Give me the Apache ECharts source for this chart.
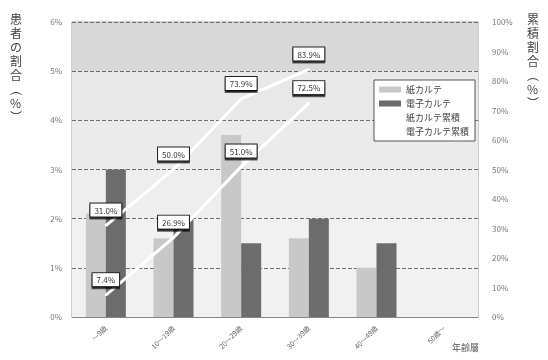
<!DOCTYPE html>
<html>
<head>
<meta charset="utf-8">
<script src="https://cdn.jsdelivr.net/npm/echarts@6/dist/echarts.min.js"></script>
<style>
  html, body { margin: 0; padding: 0; background: #fff; }
  #chart { width: 548px; height: 360px; }
</style>
</head>
<body>
<div id="chart"></div>
<script>
// Age groups on the category axis
const categories = ['〜9歳', '10〜19歳', '20〜29歳', '30〜39歳', '40〜49歳', '50歳〜'];

// Share of patients per group (%), left axis
const paperShare = [2.1, 1.6, 3.7, 1.6, 1.0, null];
const digitalShare = [3.0, 2.0, 1.5, 2.0, 1.5, null];

// Cumulative share (%), right axis
const paperCumulative = [31.0, 50.0, 73.9, 83.9, null, null];
const digitalCumulative = [7.4, 26.9, 51.0, 72.5, null, null];

// Tick values for both value axes
const leftTicks = [0, 1, 2, 3, 4, 5, 6];
const rightTicks = [0, 10, 20, 30, 40, 50, 60, 70, 80, 90, 100];

const seriesNames = ['紙カルテ', '電子カルテ', '紙カルテ累積', '電子カルテ累積'];

const FONT = '"Noto Sans CJK JP", "Noto Sans", sans-serif';

const chart = echarts.init(document.getElementById('chart'), null, { renderer: 'canvas' });

// Boxed value labels for the cumulative lines
const lineLabel = {
  show: true,
  position: 'top',
  distance: 8,
  formatter: p => Number(p.value).toFixed(1) + '%',
  fontSize: 8,
  fontFamily: FONT,
  color: '#333',
  backgroundColor: '#fff',
  borderColor: '#222',
  borderWidth: 1,
  padding: [3, 4, 2, 4],
  shadowColor: 'rgba(0,0,0,0.6)',
  shadowOffsetY: 2,
  shadowBlur: 0
};

const vertical = s => s.split('').join('\n');

const cumulativeLine = (name, data) => ({
  name,
  type: 'line',
  yAxisIndex: 1,
  data,
  symbol: 'circle',
  symbolSize: 2,
  showSymbol: true,
  showAllSymbol: true,
  lineStyle: { color: '#ffffff', width: 3 },
  itemStyle: { color: '#ffffff' },
  label: lineLabel,
  labelLayout: { hideOverlap: false },
  z: 3
});

chart.setOption({
  animation: false,
  backgroundColor: '#fff',
  textStyle: { fontFamily: FONT },
  grid: {
    left: 72, right: 70, top: 22, bottom: 43,
    show: true,
    borderColor: '#9a9a9a',
    borderWidth: 1,
    backgroundColor: 'transparent'
  },
  legend: {
    orient: 'vertical',
    right: 73,
    top: 80,
    backgroundColor: '#fff',
    borderColor: '#555',
    borderWidth: 1,
    padding: [5, 6, 5, 5],
    itemGap: 5,
    itemWidth: 22,
    itemHeight: 6,
    textStyle: { fontSize: 9, color: '#444', fontFamily: FONT },
    data: seriesNames.map(name => ({ name, icon: 'rect' }))
  },
  xAxis: {
    type: 'category',
    data: categories,
    axisLine: { lineStyle: { color: '#888' } },
    axisTick: { show: false },
    axisLabel: {
      rotate: 45,
      fontSize: 7,
      color: '#666',
      margin: 10,
      interval: 0,
      fontFamily: FONT
    }
  },
  yAxis: [
    {
      type: 'value',
      min: leftTicks[0],
      max: leftTicks[leftTicks.length - 1],
      interval: 1,
      axisLine: { show: false },
      axisTick: { show: false },
      axisLabel: { formatter: '{value}%', fontSize: 8, color: '#777', margin: 10 },
      splitLine: { lineStyle: { color: '#6e6e6e', type: 'dashed', width: 1 } },
      splitArea: {
        show: true,
        areaStyle: { color: ['#f1f1f1', '#f1f1f1', '#eeeeee', '#ebebeb', '#e8e8e8', '#d8d8d8'] }
      }
    },
    {
      type: 'value',
      min: rightTicks[0],
      max: rightTicks[rightTicks.length - 1],
      interval: 10,
      axisLine: { show: false },
      axisTick: { show: false },
      axisLabel: { formatter: '{value}%', fontSize: 8, color: '#777', margin: 14 },
      splitLine: { show: false }
    }
  ],
  series: [
    {
      name: seriesNames[0],
      type: 'bar',
      data: paperShare,
      barWidth: 20,
      barGap: '0%',
      itemStyle: { color: '#c8c8c8' }
    },
    {
      name: seriesNames[1],
      type: 'bar',
      data: digitalShare,
      barWidth: 20,
      itemStyle: { color: '#6c6c6c' }
    },
    cumulativeLine(seriesNames[2], paperCumulative),
    cumulativeLine(seriesNames[3], digitalCumulative)
  ],
  graphic: [
    {
      type: 'text',
      left: 10,
      top: 12,
      style: {
        text: vertical('患者の割合︵%︶'),
        lineHeight: 14,
        fill: '#444',
        font: '12px ' + FONT,
        align: 'center'
      }
    },
    {
      type: 'text',
      left: 527,
      top: 12,
      style: {
        text: vertical('累積割合︵%︶'),
        lineHeight: 14,
        fill: '#444',
        font: '12px ' + FONT,
        align: 'center'
      }
    },
    {
      type: 'text',
      left: 452,
      top: 343,
      style: {
        text: '年齢層',
        fill: '#555',
        font: '9px ' + FONT
      }
    }
  ]
});
</script>
</body>
</html>
